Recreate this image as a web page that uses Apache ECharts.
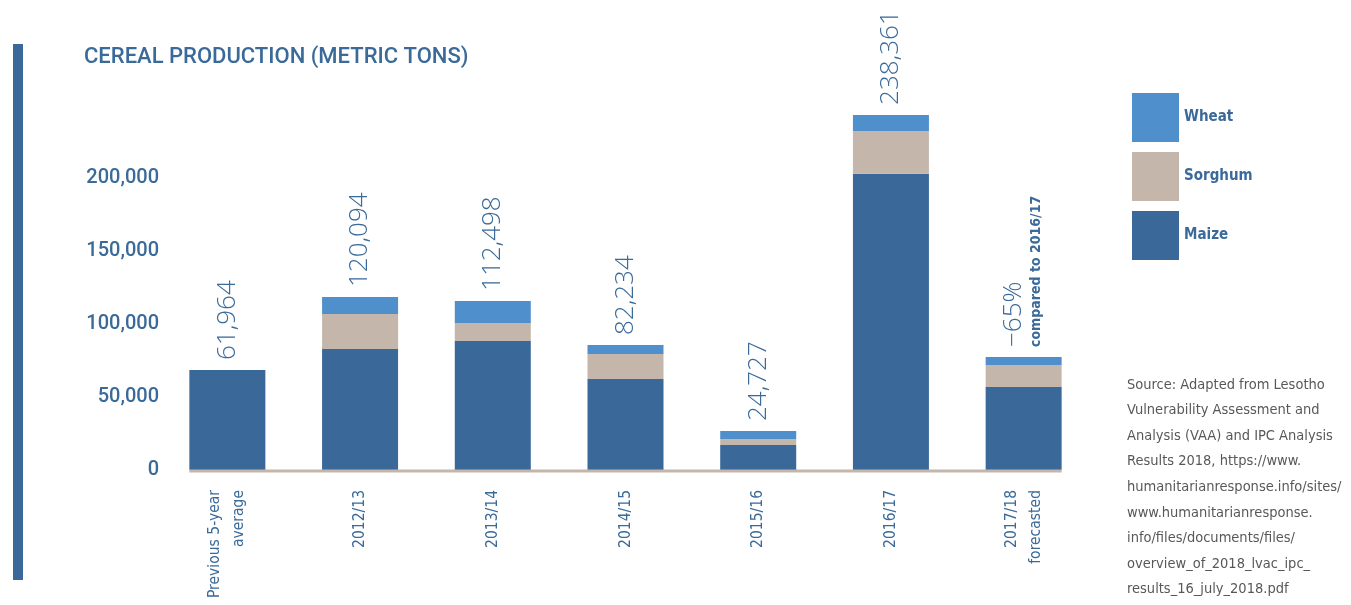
<!DOCTYPE html>
<html>
<head>
<meta charset="utf-8">
<script src="https://cdn.jsdelivr.net/npm/echarts@6/dist/echarts.min.js"></script>
<style>
  html, body { margin: 0; padding: 0; background: #fff; }
  #chart { width: 1351px; height: 605px; }
</style>
</head>
<body>
<div id="chart"></div>
<script>
// data (metric tons)
const categories = ['Previous 5-year\naverage', '2012/13', '2013/14', '2014/15', '2015/16', '2016/17', '2017/18\nforecasted'];
const maize = [68500, 82900, 88400, 62300, 17100, 202900, 56800];
const sorghum = [0, 24000, 12300, 17100, 4100, 29300, 15100];
const wheat = [0, 11600, 15100, 6200, 5500, 11000, 5500];
const totalLabels = ['61,964', '120,094', '112,498', '82,234', '24,727', '238,361', '\u221265%'];
const noteLabels = ['', '', '', '', '', '', 'compared to 2016/17'];
const sourceLines = [
  'Source: Adapted from Lesotho',
  'Vulnerability Assessment and',
  'Analysis (VAA) and IPC Analysis',
  'Results 2018, https://www.',
  'humanitarianresponse.info/sites/',
  'www.humanitarianresponse.',
  'info/files/documents/files/',
  'overview_of_2018_lvac_ipc_',
  'results_16_july_2018.pdf'
];

const BLUE_TEXT = '#3a6a99';
// condensed face goes in through the font shorthand (font-stretch keyword)
const NARROW = '"DejaVu Sans", sans-serif';
const BAR_W = 76;

const chart = echarts.init(document.getElementById('chart'));

const fmtThousands = v => String(v).replace(/\B(?=(\d{3})+(?!\d))/g, ',');

const option = {
  animation: false,
  title: [
    {
      text: 'CEREAL PRODUCTION (METRIC TONS)',
      left: 84,
      top: 46,
      padding: 0,
      textStyle: { fontFamily: 'Roboto', fontSize: 22, fontWeight: 500, color: BLUE_TEXT }
    },
    {
      text: sourceLines.join('\n'),
      left: 1127,
      top: 372,
      padding: 0,
      textStyle: { fontFamily: NARROW, fontStyle: 'condensed', fontSize: 14.5, fontWeight: 'normal', color: '#585858', lineHeight: 25.6 }
    }
  ],
  legend: {
    orient: 'vertical',
    left: 1132,
    top: 93,
    padding: 0,
    itemWidth: 47,
    itemHeight: 49,
    itemGap: 10,
    icon: 'rect',
    selectedMode: false,
    data: ['Wheat', 'Sorghum', 'Maize'],
    textStyle: { fontFamily: NARROW, fontStyle: 'condensed', fontSize: 15, fontWeight: 'bold', color: BLUE_TEXT, padding: [5, 0, 0, 0] }
  },
  grid: { left: 161, width: 929, top: 105, bottom: 135, containLabel: false, outerBoundsMode: 'none' },
  xAxis: {
    type: 'category',
    data: categories,
    axisLine: { show: false },
    axisTick: { show: false },
    axisLabel: {
      rotate: 90,
      margin: 20,
      interval: 0,
      fontFamily: NARROW,
      fontStyle: 'condensed',
      fontSize: 15.5,
      lineHeight: 24,
      color: BLUE_TEXT
    }
  },
  yAxis: {
    type: 'value',
    min: 0,
    max: 250000,
    interval: 50000,
    splitLine: { show: false },
    axisLine: { show: false },
    axisTick: { show: false },
    axisLabel: {
      showMaxLabel: false,
      margin: 2,
      fontFamily: 'Roboto',
      fontSize: 20,
      fontWeight: 500,
      color: BLUE_TEXT,
      formatter: v => (v >= 250000 ? '' : fmtThousands(v))
    }
  },
  series: [
    {
      name: 'Maize', type: 'bar', stack: 'total', barWidth: BAR_W,
      itemStyle: { color: '#3a6898' }, data: maize
    },
    {
      name: 'Sorghum', type: 'bar', stack: 'total', barWidth: BAR_W,
      itemStyle: { color: '#c4b6ab' }, data: sorghum
    },
    {
      name: 'Wheat', type: 'bar', stack: 'total', barWidth: BAR_W,
      itemStyle: { color: '#4e8fcc' }, data: wheat,
      label: {
        show: true,
        position: 'top',
        rotate: 90,
        align: 'left',
        verticalAlign: 'middle',
        distance: 10,
        formatter: p => noteLabels[p.dataIndex]
          ? '{big|' + totalLabels[p.dataIndex] + '}\n{small|' + noteLabels[p.dataIndex] + '}'
          : '{big|' + totalLabels[p.dataIndex] + '}',
        rich: {
          big: { fontFamily: '"Open Sans", Lato, sans-serif', fontSize: 26, fontWeight: 300, color: BLUE_TEXT, lineHeight: 26 },
          small: { fontFamily: NARROW, fontStyle: 'condensed', fontSize: 14, fontWeight: 'bold', color: BLUE_TEXT, lineHeight: 20 }
        }
      }
    }
  ]
};

chart.setOption(option);

// baseline from the first bar's left edge to the last bar's right edge, plus the side rule
const pStart = chart.convertToPixel({ gridIndex: 0 }, [0, 0]);
const pEnd = chart.convertToPixel({ gridIndex: 0 }, [categories.length - 1, 0]);
chart.setOption({
  graphic: [
    {
      id: 'sideRule', type: 'rect',
      shape: { x: 13, y: 44, width: 10, height: 536 },
      style: { fill: '#3a6898' }
    },
    {
      id: 'baseline', type: 'line', z: 10,
      shape: { x1: pStart[0] - BAR_W / 2, y1: pStart[1] + 1, x2: pEnd[0] + BAR_W / 2, y2: pEnd[1] + 1 },
      style: { stroke: '#c4b6ab', lineWidth: 3 }
    }
  ]
});

window.addEventListener('resize', chart.resize);
</script>
</body>
</html>
